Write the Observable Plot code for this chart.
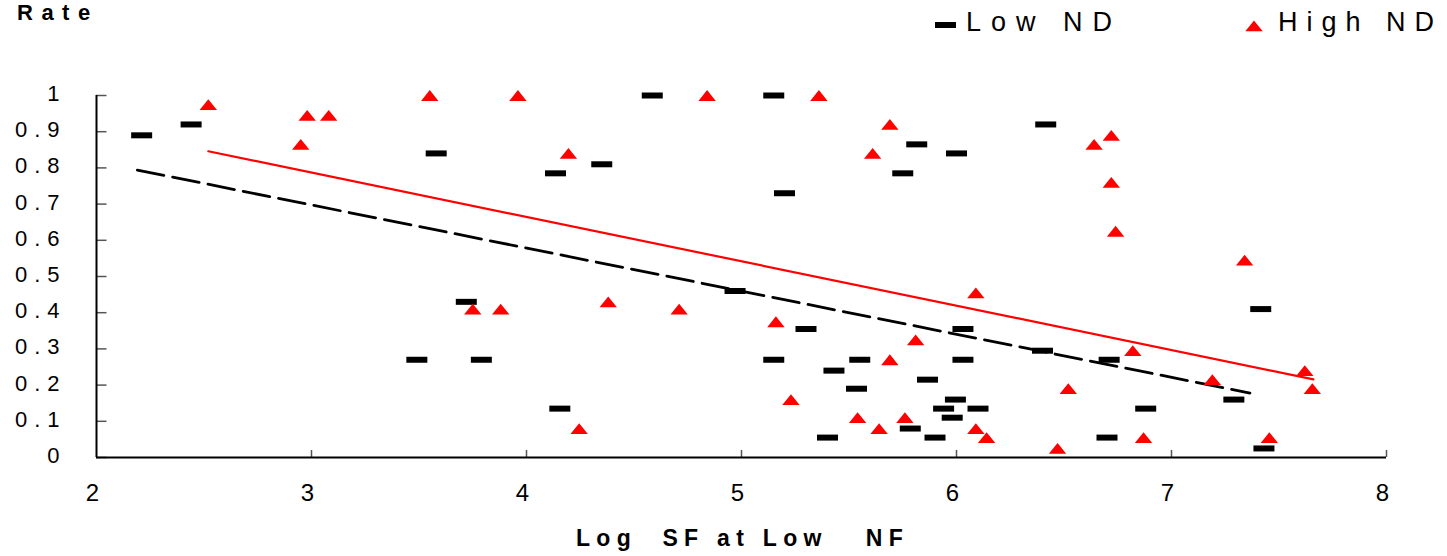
<!DOCTYPE html>
<html><head><meta charset="utf-8">
<script src="https://cdn.jsdelivr.net/npm/d3@7"></script>
<script src="https://cdn.jsdelivr.net/npm/@observablehq/plot@0.6"></script>
<style>
body{margin:0;background:#fff;}
#wrap{position:relative;width:1447px;height:556px;font-family:Arial,"Liberation Sans",sans-serif;overflow:hidden;}
.t{position:absolute;white-space:pre;color:#000;line-height:1;}
#chart svg g[aria-label="y-axis tick label"]{letter-spacing:7px;}
</style></head><body>
<div id="wrap">
  <div id="chart"></div>
  <div class="t" style="left:17px;top:2px;font-size:22px;font-weight:bold;letter-spacing:8.5px">Rate</div>
  <svg class="t" style="left:930px;top:18px" width="30" height="16"><rect x="5" y="4" width="21" height="6" fill="#000"/></svg>
  <div class="t" style="left:966px;top:9px;font-size:27px;letter-spacing:10px">Low ND</div>
  <svg class="t" style="left:1242px;top:18px" width="26" height="16"><path d="M12,2.5L20.7,13.3L3.3,13.3Z" fill="#ff0000"/></svg>
  <div class="t" style="left:1278px;top:9px;font-size:27px;letter-spacing:9px">High ND</div>
  <div class="t" style="left:576px;top:527px;font-size:23px;font-weight:bold;letter-spacing:6.3px">Log  SF at Low   NF</div>
</div>
<script>
// Low ND series
const lowX = [2.21, 2.44, 3.49, 3.58, 3.72, 3.79, 4.135, 4.155, 4.35, 4.585, 4.97, 5.15, 5.15, 5.20, 5.30, 5.40, 5.43, 5.535, 5.55, 5.75, 5.785, 5.815, 5.865, 5.90, 5.94, 5.98, 5.995, 6.0, 6.03, 6.03, 6.10, 6.40, 6.415, 6.70, 6.71, 6.88, 7.29, 7.415, 7.43];
const lowY = [0.89, 0.92, 0.27, 0.84, 0.43, 0.27, 0.785, 0.135, 0.81, 1.0, 0.46, 1.0, 0.27, 0.73, 0.355, 0.055, 0.24, 0.19, 0.27, 0.785, 0.08, 0.865, 0.215, 0.055, 0.135, 0.11, 0.16, 0.84, 0.355, 0.27, 0.135, 0.295, 0.92, 0.055, 0.27, 0.135, 0.16, 0.41, 0.025];
// High ND series
const highX = [2.52, 2.95, 2.98, 3.08, 3.55, 3.75, 3.88, 3.96, 4.195, 4.245, 4.38, 4.71, 4.84, 5.16, 5.23, 5.36, 5.54, 5.61, 5.64, 5.69, 5.69, 5.76, 5.81, 6.09, 6.09, 6.14, 6.47, 6.52, 6.64, 6.72, 6.72, 6.74, 6.82, 6.87, 7.19, 7.34, 7.455, 7.62, 7.655];
const highY = [0.975, 0.865, 0.945, 0.945, 1.0, 0.41, 0.41, 1.0, 0.84, 0.08, 0.43, 0.41, 1.0, 0.375, 0.16, 1.0, 0.11, 0.84, 0.08, 0.92, 0.27, 0.11, 0.325, 0.455, 0.08, 0.055, 0.025, 0.19, 0.865, 0.89, 0.76, 0.625, 0.295, 0.055, 0.215, 0.545, 0.055, 0.24, 0.19];
// Trend lines (endpoints)
const lowFitX = [2.19, 7.365];
const lowFitY = [0.794, 0.178];
const highFitX = [2.52, 7.66];
const highFitY = [0.846, 0.216];
// Ticks
const xTicks = [2, 3, 4, 5, 6, 7, 8];
const xTickMarks = [3, 4, 5, 6, 7, 8];
const yTicks = [0, 0.1, 0.2, 0.3, 0.4, 0.5, 0.6, 0.7, 0.8, 0.9, 1];

const low = lowX.map((x, i) => ({x, y: lowY[i]}));
const high = highX.map((x, i) => ({x, y: highY[i]}));
const lowFit = lowFitX.map((x, i) => ({x, y: lowFitY[i]}));
const highFit = highFitX.map((x, i) => ({x, y: highFitY[i]}));

const dashSymbol = {draw(c) { c.rect(-10.5, -3, 21, 6); }};
const triSymbol = {draw(c) { c.moveTo(0, -5.4); c.lineTo(8.7, 5.4); c.lineTo(-8.7, 5.4); c.closePath(); }};

const W = 1447, H = 556, ML = 96, MR = 61, MT = 95, MB = 99;
const fw = W - ML - MR, fh = H - MT - MB;

const chart = Plot.plot({
  width: W, height: H,
  marginLeft: ML, marginRight: MR, marginTop: MT, marginBottom: MB,
  style: {fontFamily: "Arial, 'Liberation Sans', sans-serif", background: "#fff", color: "#000"},
  x: {domain: [2, 8]},
  y: {domain: [0, 1]},
  marks: [
    Plot.axisY(yTicks, {tickSize: 0, tickPadding: 30, fontSize: 22, tickFormat: d => String(+d.toFixed(1)), label: null, dy: -1.5}),
    Plot.axisX(xTicks, {tickSize: 0, tickPadding: 26, fontSize: 24, tickFormat: d => String(d), label: null, dx: -4}),
    Plot.tickY(yTicks, {y: d => d, insetRight: fw - 10.5, stroke: "#555", strokeWidth: 1.5}),
    Plot.tickX(xTickMarks, {x: d => d, insetTop: fh - 7, stroke: "#555", strokeWidth: 1.5}),
    Plot.ruleX([2], {stroke: "#000", strokeWidth: 2}),
    Plot.ruleY([0], {stroke: "#000", strokeWidth: 2}),
    Plot.line(lowFit, {x: "x", y: "y", stroke: "#000", strokeWidth: 2.8, strokeDasharray: "27,9"}),
    Plot.line(highFit, {x: "x", y: "y", stroke: "#ff0000", strokeWidth: 2.2}),
    Plot.dot(low, {x: "x", y: "y", symbol: dashSymbol, fill: "#000", stroke: "none"}),
    Plot.dot(high, {x: "x", y: "y", symbol: triSymbol, fill: "#ff0000", stroke: "none"})
  ]
});
document.getElementById("chart").appendChild(chart);
</script>
</body></html>
